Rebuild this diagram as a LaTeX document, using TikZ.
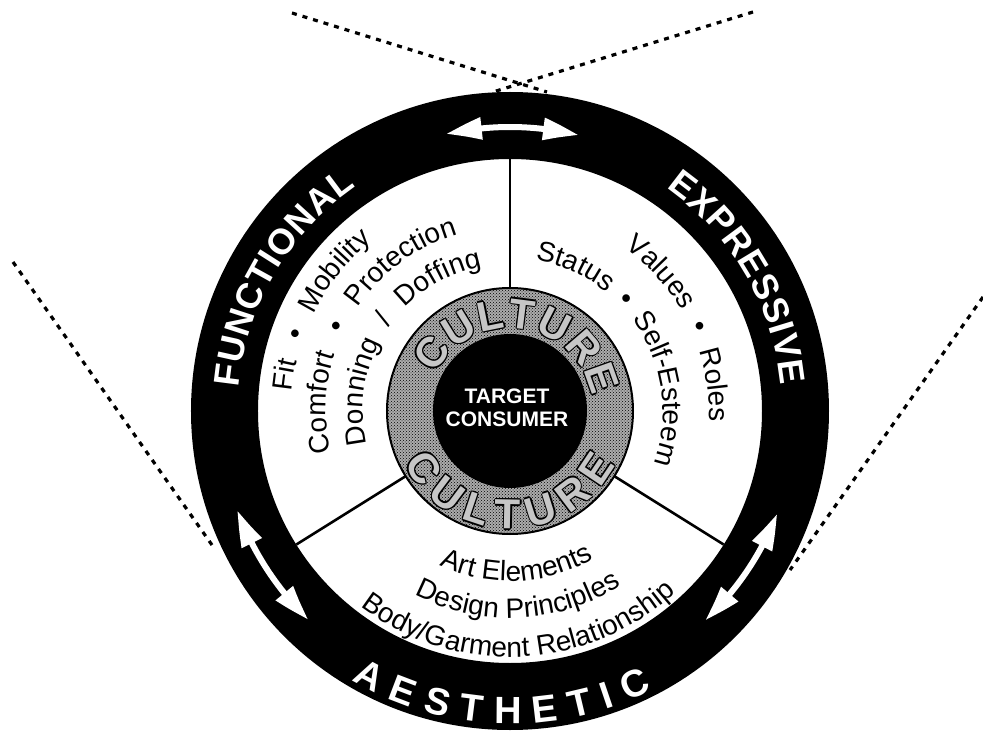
\documentclass[tikz,border=0pt]{standalone}
\usepackage{fontspec}
\setmainfont{Liberation Sans}
\usetikzlibrary{decorations.text, patterns, arrows.meta, bending}

\newcommand\mybodyfont{\fontsize{28}{28}\selectfont}
\newcommand\myringfont{\fontsize{36}{36}\selectfont\bfseries}
\newcommand\myringbfont{\fontsize{38}{38}\selectfont\bfseries}
\newcommand\mycultfont{\fontsize{42}{42}\selectfont\bfseries}
\newcommand\mytargetfont{\fontsize{21}{23}\selectfont\bfseries}

% #1 decoration options, #2 format, #3 text, #4 start angle, #5 end angle, #6 radius
\newcommand\myarctext[6]{%
  \path[decorate, decoration={text along path, text={|#2|#3}, #1}]
    (#4:#6pt) arc[start angle=#4, end angle=#5, radius=#6pt];}

\tikzset{
  dotline/.style={line width=3.2pt, dash pattern=on 5pt off 6pt},
  divider/.style={line width=2.6pt},
  ringarrow/.style={white, line width=6pt,
    {Triangle[length=36pt, width=21pt, bend]}-{Triangle[length=36pt, width=21pt, bend]}},
}

\begin{document}
\begin{tikzpicture}[x=1pt, y=1pt]
\useasboundingbox (-510,-328) rectangle (473,411);

% dotted guide lines
\coordinate (tlA) at (-218,398); \coordinate (tlB) at (37,319);
\coordinate (trA) at (243,399);  \coordinate (trB) at (-17,319);
\coordinate (lfA) at (-497,149); \coordinate (lfB) at (-298,-134);
\coordinate (rtA) at (473,114);  \coordinate (rtB) at (280,-159);
\draw[dotline] (tlA) -- (tlB);
\draw[dotline] (trA) -- (trB);
\draw[dotline] (lfA) -- (lfB);
\draw[dotline] (rtA) -- (rtB);

% outer black ring and white field
\fill[white] (0,0) circle[radius=319pt];
\fill[black, even odd rule] (0,0) circle[radius=319pt] (0,0) circle[radius=252pt];

% culture ring
\fill[gray!65] (0,0) circle[radius=123pt];
\fill[pattern=crosshatch dots, pattern color=black] (0,0) circle[radius=123pt];
\draw[line width=2pt] (0,0) circle[radius=123pt];
\fill[black] (0,0) circle[radius=77pt];

% dividers
\coordinate (dva) at (90:123pt);  \coordinate (dvb) at (90:252pt);
\coordinate (dla) at (212:123pt); \coordinate (dlb) at (212:252pt);
\coordinate (dra) at (328:123pt); \coordinate (drb) at (328:252pt);
\draw[divider] (dva) -- (dvb);
\draw[divider] (dla) -- (dlb);
\draw[divider] (dra) -- (drb);

% ring labels
\myarctext{text color=white, text align={fit to path}}{\myringfont}{FUNCTIONAL}{175}{124.5}{272}
\myarctext{text color=white, text align={fit to path}}{\myringfont}{EXPRESSIVE}{55}{5.5}{272}
\myarctext{text color=white, text align={fit to path}}{\myringbfont}{AESTHETIC}{239.5}{297}{313}

% ring arrows
\draw[ringarrow] (103:284pt) arc[start angle=103, end angle=76, radius=284pt];
\draw[ringarrow] (200:290pt) arc[start angle=200, end angle=226, radius=290pt];
\draw[ringarrow] (-21:286pt) arc[start angle=-21, end angle=-47, radius=286pt];

% functional sector
\myarctext{text color=black, text align={fit to path stretching spaces}}{\mybodyfont}{Fit • Mobility}{175}{129}{219}
\myarctext{text color=black, text align={fit to path stretching spaces}}{\mybodyfont}{Comfort • Protection}{193}{106.5}{184}
\myarctext{text color=black, text align={fit to path stretching spaces}}{\mybodyfont}{Donning / Doffing}{193}{101}{147}

% expressive sector
\myarctext{text color=black, text align={fit to path stretching spaces}}{\mybodyfont}{Values • Roles}{55}{-3}{199}
\myarctext{text color=black, text align={fit to path stretching spaces}}{\mybodyfont}{Status • Self-Esteem}{80.5}{-20}{153}

% aesthetic sector
\myarctext{text color=black, text align=center}{\mybodyfont}{Art Elements}{232.5}{312.5}{170}
\myarctext{text color=black, text align=center}{\mybodyfont}{Design Principles}{232.5}{312.5}{207}
\myarctext{text color=black, text align=center}{\mybodyfont}{Body/Garment Relationship}{222.5}{322.5}{246}

% CULTURE lettering (outlined)
\foreach \dx/\dy in {1.3/0,-1.3/0,0/1.3,0/-1.3,0.9/0.9,0.9/-0.9,-0.9/0.9,-0.9/-0.9}{
  \begin{scope}[xshift=\dx pt, yshift=\dy pt]
    \myarctext{text color=black, text align={fit to path}}{\mycultfont}{CULTURE}{154}{10}{83}
    \myarctext{text color=black, text align={fit to path}}{\mycultfont}{CULTURE}{206}{333}{118}
  \end{scope}
}
\myarctext{text color=gray!45, text align={fit to path}}{\mycultfont}{CULTURE}{154}{10}{83}
\myarctext{text color=gray!45, text align={fit to path}}{\mycultfont}{CULTURE}{206}{333}{118}

% centre
\node[font=\mytargetfont, text=white, align=center, inner sep=0pt] (target) at (-3,3) {TARGET\\CONSUMER};
\end{tikzpicture}
\end{document}
